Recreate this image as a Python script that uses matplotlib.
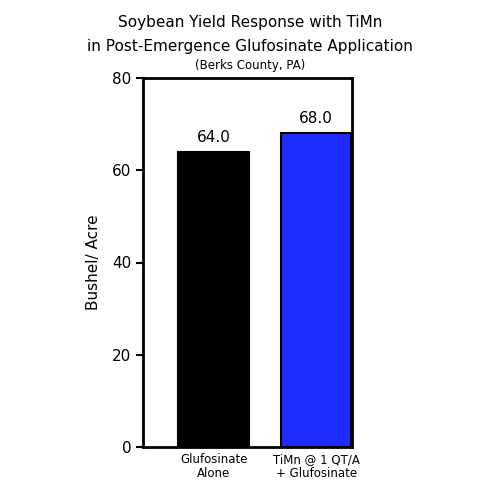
import matplotlib as mpl
mpl.use('Agg')
import matplotlib.pyplot as plt

categories = ['Glufosinate\nAlone', 'TiMn @ 1 QT/A\n+ Glufosinate']
values = [64.0, 68.0]
colors = ['#000000', '#1f2cff']

fig = plt.figure(figsize=(5, 5), dpi=100)
ax = fig.add_axes([0.286, 0.106, 0.418, 0.738])

ax.bar([0, 1], values, width=0.69, color=colors, edgecolor='black', linewidth=1.5)
for i, v in enumerate(values):
    ax.text(i, v + 1.5, '%.1f' % v, ha='center', va='bottom', fontsize=11)

ax.set_xlim(-0.69, 1.35)
ax.set_ylim(0, 80)
ax.set_yticks([0, 20, 40, 60, 80])
ax.set_xticks([0, 1])
ax.set_xticklabels(categories, fontsize=8.5, linespacing=1.1)
ax.tick_params(axis='y', labelsize=11, width=1.5, length=5)
ax.tick_params(axis='x', length=0, pad=4)
for s in ax.spines.values():
    s.set_linewidth(2)
ax.set_ylabel('Bushel/ Acre', fontsize=11, labelpad=8)

fig.text(0.5, 0.955, 'Soybean Yield Response with TiMn', ha='center', va='center', fontsize=11)
fig.text(0.5, 0.908, 'in Post-Emergence Glufosinate Application', ha='center', va='center', fontsize=11)
fig.text(0.5, 0.870, '(Berks County, PA)', ha='center', va='center', fontsize=8.5)

plt.savefig('out.png', dpi=100)
